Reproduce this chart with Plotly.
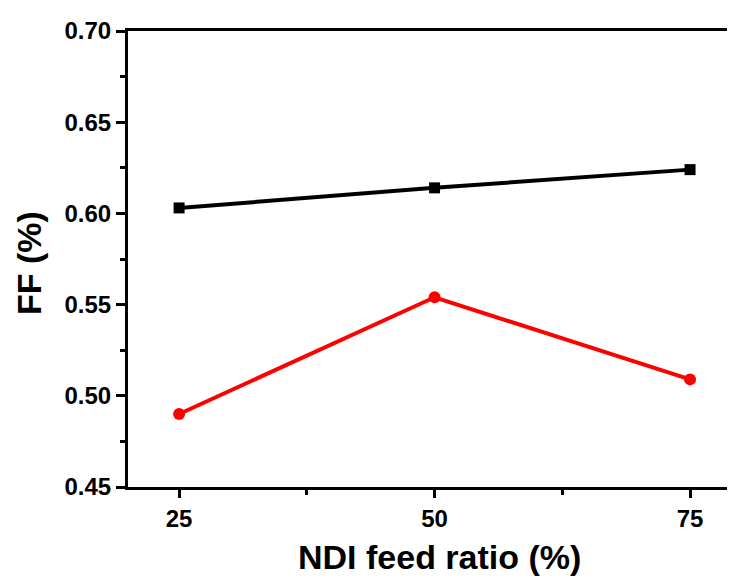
import plotly.graph_objects as go

x_ratio = [25, 50, 75]
ff_black = [0.603, 0.614, 0.624]
ff_red = [0.490, 0.554, 0.509]

OFF = 8  # page body margin
W, H = 735 - OFF, 579 - OFF
L, R, T, B = 128 - OFF, 0, 31 - OFF, 92
PLOT_BOTTOM = 487  # screen px
PLOT_H = H - T - B

fig = go.Figure()
fig.add_trace(go.Scatter(x=x_ratio, y=ff_black, mode="lines+markers",
                         line=dict(color="black", width=4),
                         marker=dict(symbol="square", size=11, color="black"),
                         showlegend=False))
fig.add_trace(go.Scatter(x=x_ratio, y=ff_red, mode="lines+markers",
                         line=dict(color="#ff0000", width=4),
                         marker=dict(symbol="circle", size=12, color="#ff0000"),
                         showlegend=False))

font_tick = dict(family="Liberation Sans, Arial", size=24, color="black")
fig.update_layout(
    width=W, height=H,
    margin=dict(l=L, r=R, t=T, b=B),
    plot_bgcolor="white", paper_bgcolor="white",
    font=dict(family="Liberation Sans, Arial", color="black"),
    xaxis=dict(range=[20, 79.4], tickmode="linear", tick0=25, dtick=25,
               showgrid=False, zeroline=False,
               showline=True, linecolor="black", linewidth=3, mirror=True,
               ticks="outside", ticklen=8, tickwidth=3, tickcolor="black",
               tickfont=font_tick, tickprefix="<b>", ticksuffix="</b>",
               minor=dict(dtick=12.5, tick0=25, ticks="outside", ticklen=5,
                          tickwidth=3, tickcolor="black", showgrid=False)),
    yaxis=dict(range=[0.45, 0.70], tickmode="linear", tick0=0.45, dtick=0.05,
               tickformat=".2f",
               showgrid=False, zeroline=False,
               showline=True, linecolor="black", linewidth=3, mirror=False,
               ticks="outside", ticklen=9, tickwidth=3, tickcolor="black",
               tickfont=font_tick, tickprefix="<b>", ticksuffix="</b>",
               minor=dict(dtick=0.025, tick0=0.45, ticks="outside", ticklen=5,
                          tickwidth=3, tickcolor="black", showgrid=False)),
)

fig.add_annotation(text="<b>NDI feed ratio (%)</b>", xref="paper", yref="paper",
                   x=(439 - OFF - L) / (W - L - R), y=-(557 - PLOT_BOTTOM) / PLOT_H,
                   showarrow=False, xanchor="center", yanchor="middle",
                   font=dict(family="Liberation Sans, Arial", size=34, color="black"))
fig.add_annotation(text="<b>FF (%)</b>", xref="paper", yref="paper",
                   x=-(L - (29 - OFF)) / (W - L - R), y=(PLOT_BOTTOM - 263) / PLOT_H,
                   showarrow=False, xanchor="center", yanchor="middle", textangle=-90,
                   font=dict(family="Liberation Sans, Arial", size=34, color="black"))

fig.write_html("out.html")
